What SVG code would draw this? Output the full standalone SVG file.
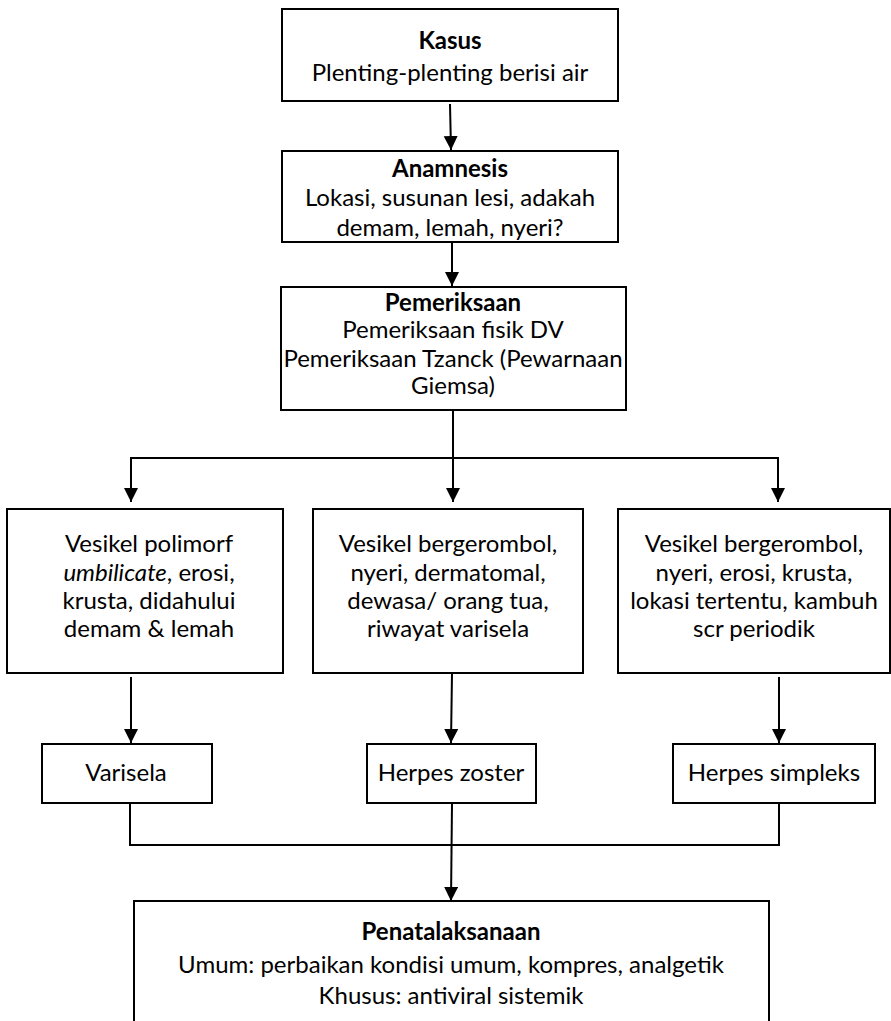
<svg xmlns="http://www.w3.org/2000/svg" width="891" height="1021" viewBox="0 0 891 1021">
  <style>
    .box { fill: #fff; stroke: #000; stroke-width: 2; }
    .wire { fill: none; stroke: #000; stroke-width: 2; }
    text { font-family: Lato, "Open Sans", "Liberation Sans", sans-serif; font-size: 24px; fill: #000; text-anchor: middle; }
    .b { font-weight: bold; }
  </style>
  <defs>
    <marker id="arrow" markerUnits="userSpaceOnUse" markerWidth="14" markerHeight="16" refX="14" refY="7" orient="auto">
      <path d="M0,0 L14,7 L0,14 Z" fill="#000"/>
    </marker>
  </defs>

  <g id="connectors">
    <line class="wire" x1="450" y1="104" x2="451" y2="150" marker-end="url(#arrow)"/>
    <line class="wire" x1="452" y1="243" x2="452" y2="286" marker-end="url(#arrow)"/>
    <polyline class="wire" points="453,410 453,458"/>
    <polyline class="wire" points="131,458 778,458"/>
    <line class="wire" x1="131" y1="457" x2="131" y2="502" marker-end="url(#arrow)"/>
    <line class="wire" x1="453" y1="457" x2="453" y2="502" marker-end="url(#arrow)"/>
    <line class="wire" x1="778" y1="457" x2="778" y2="502" marker-end="url(#arrow)"/>
    <line class="wire" x1="131" y1="677" x2="131" y2="743" marker-end="url(#arrow)"/>
    <line class="wire" x1="452" y1="673" x2="451" y2="743" marker-end="url(#arrow)"/>
    <line class="wire" x1="779" y1="677" x2="779" y2="743" marker-end="url(#arrow)"/>
    <polyline class="wire" points="130,804 130,845 779,845 779,804"/>
    <line class="wire" x1="452" y1="803" x2="451" y2="901" marker-end="url(#arrow)"/>
  </g>

  <g id="kasus">
    <rect class="box" x="282" y="9" width="336" height="92"/>
    <text class="b" x="450" y="49">Kasus</text>
    <text x="450" y="81">Plenting-plenting berisi air</text>
  </g>

  <g id="anamnesis">
    <rect class="box" x="282" y="151" width="336" height="91"/>
    <text class="b" x="450" y="177">Anamnesis</text>
    <text x="450" y="206">Lokasi, susunan lesi, adakah</text>
    <text x="450" y="236">demam, lemah, nyeri?</text>
  </g>

  <g id="pemeriksaan">
    <rect class="box" x="281" y="287" width="345" height="123"/>
    <text class="b" x="453" y="311">Pemeriksaan</text>
    <text x="453" y="338">Pemeriksaan fisik DV</text>
    <text x="453" y="367">Pemeriksaan Tzanck (Pewarnaan</text>
    <text x="453" y="394">Giemsa)</text>
  </g>

  <g id="gejala-varisela">
    <rect class="box" x="7" y="509" width="276" height="164"/>
    <text x="149" y="552">Vesikel polimorf</text>
    <text x="149" y="581"><tspan font-style="italic">umbilicate</tspan>, erosi,</text>
    <text x="149" y="609">krusta, didahului</text>
    <text x="149" y="637">demam &amp; lemah</text>
  </g>

  <g id="gejala-zoster">
    <rect class="box" x="313" y="509" width="270" height="164"/>
    <text x="448" y="552">Vesikel bergerombol,</text>
    <text x="448" y="581">nyeri, dermatomal,</text>
    <text x="448" y="609">dewasa/ orang tua,</text>
    <text x="448" y="637">riwayat varisela</text>
  </g>

  <g id="gejala-simpleks">
    <rect class="box" x="618" y="509" width="272" height="164"/>
    <text x="754" y="552">Vesikel bergerombol,</text>
    <text x="754" y="581">nyeri, erosi, krusta,</text>
    <text x="754" y="609">lokasi tertentu, kambuh</text>
    <text x="754" y="637">scr periodik</text>
  </g>

  <g id="varisela">
    <rect class="box" x="42" y="744" width="170" height="59"/>
    <text x="126" y="781">Varisela</text>
  </g>

  <g id="herpes-zoster">
    <rect class="box" x="367" y="744" width="169" height="59"/>
    <text x="451" y="781">Herpes zoster</text>
  </g>

  <g id="herpes-simpleks">
    <rect class="box" x="673" y="744" width="202" height="59"/>
    <text x="774" y="781">Herpes simpleks</text>
  </g>

  <g id="penatalaksanaan">
    <rect class="box" x="134" y="901" width="635" height="140"/>
    <text class="b" x="451" y="940">Penatalaksanaan</text>
    <text x="451" y="973">Umum: perbaikan kondisi umum, kompres, analgetik</text>
    <text x="451" y="1004">Khusus: antiviral sistemik</text>
  </g>
</svg>
